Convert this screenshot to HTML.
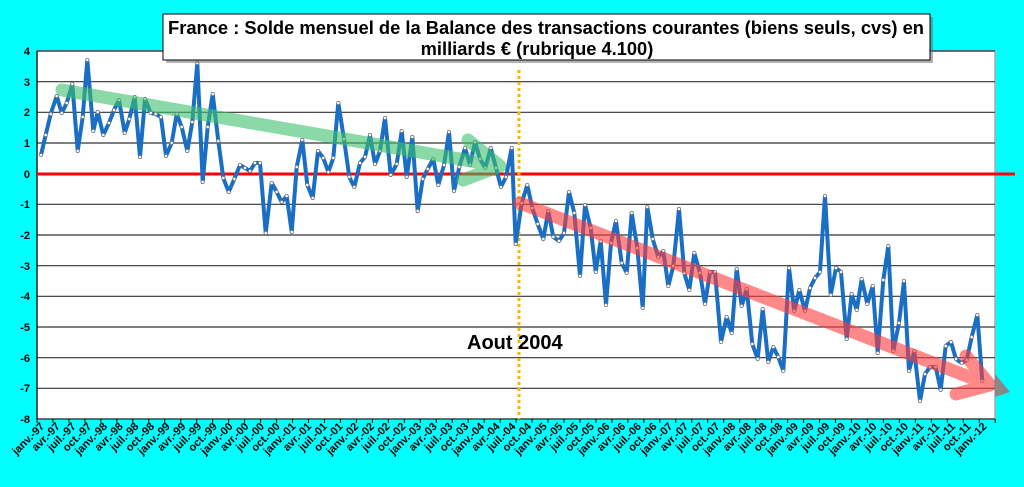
<!DOCTYPE html>
<html><head><meta charset="utf-8"><style>
html,body{margin:0;padding:0;background:#00ffff;}
svg{display:block;font-family:"Liberation Sans",Arial,sans-serif;}
</style></head><body>
<svg width="1024" height="487" viewBox="0 0 1024 487" xmlns="http://www.w3.org/2000/svg">
<rect width="1024" height="487" fill="#00ffff"/>
<rect x="37" y="51" width="958" height="368" fill="#fff" stroke="#aaa" stroke-width="1.5"/>
<g stroke="#333" stroke-width="1.2">
<line x1="37" y1="51" x2="995" y2="51"/><line x1="37" y1="81.7" x2="995" y2="81.7"/><line x1="37" y1="112.3" x2="995" y2="112.3"/><line x1="37" y1="143" x2="995" y2="143"/>
<line x1="37" y1="204.3" x2="995" y2="204.3"/><line x1="37" y1="235" x2="995" y2="235"/><line x1="37" y1="265.7" x2="995" y2="265.7"/><line x1="37" y1="296.3" x2="995" y2="296.3"/><line x1="37" y1="327" x2="995" y2="327"/><line x1="37" y1="357.7" x2="995" y2="357.7"/><line x1="37" y1="388.3" x2="995" y2="388.3"/><line x1="37" y1="419" x2="995" y2="419"/>
</g>
<line x1="37" y1="51" x2="37" y2="419" stroke="#000" stroke-width="1.2"/>
<line x1="37" y1="174" x2="1015" y2="174" stroke="#ff0000" stroke-width="3"/>
<g font-size="11" font-weight="bold" text-anchor="end" fill="#000">
<text x="30" y="55">4</text><text x="30" y="86">3</text><text x="30" y="116">2</text><text x="30" y="147">1</text><text x="30" y="178">0</text><text x="30" y="208">-1</text><text x="30" y="239">-2</text><text x="30" y="270">-3</text><text x="30" y="300">-4</text><text x="30" y="331">-5</text><text x="30" y="362">-6</text><text x="30" y="392">-7</text><text x="30" y="423">-8</text>
</g>
<line x1="519" y1="70" x2="519" y2="419" stroke="#f5b800" stroke-width="3" stroke-dasharray="3,3"/>
<polyline id="pl" fill="none" stroke="#1a6fc4" stroke-width="4" stroke-linejoin="round" points="41,155 45.7,135 50.7,114 56.7,96 61.7,113 66.7,103 72.3,84 77.7,151 82.7,117 87.3,60 93.3,131 97.7,112 103.3,135 109,123 114,110 119,100 124.7,133 129.3,119 134.7,97 140,157 145,99 150.7,113 155.7,114 161,117 166,156 171.7,143 176.7,114 181.7,127 187.3,151 192.3,122 197.3,63 202.7,182 207.7,127 212.7,94 218.3,141 223.3,178 228.7,192 234.3,179 240,165 245,168 250,171 255,163 260,163 265.7,233 271.7,183 276.7,192 281.7,202 286.7,196 291.7,232 296.7,167 302.3,140 307.3,185 312.7,198 318,151 323.3,158 328.3,172 333.3,158 338.3,103 344,139 349.3,177 354.3,187 360,163 365,157 370,135 375,164 380,151 385,118 390.7,175 396.7,164 401.7,131 406.7,177 412.3,137 417.7,211 422.7,179 427.7,169 433.3,159 438.3,185 444,165 449,132 454,191 459.3,167 465,148 470,165 475,142 480,159 485.3,168 490.7,148 496,168 501,187 506,177 511.7,148 515.7,244 521.7,203 527.3,185 532.3,208 537.7,224 543.3,239 548.3,211 553.3,237 559,241 564,233 569,192 574.3,213 580,276 585,205 590.7,228 595.7,272 600.7,241 606,305 611,243 616,221 621.7,263 626.7,273 631.7,213 637.3,248 642.7,308 647.3,207 652.7,239 658.3,257 663.3,251 668.3,286 673.3,266 679,209 684.3,273 689.3,290 694.3,253 700,273 705,304 710,272 715,272 721,342 726.7,317 731.7,333 736.7,269 741.7,306 746.7,289 752.3,344 757.7,359 762.7,309 768.3,362 773.3,347 778.3,357 783.3,371 789,268 794.3,311 799.3,290 805,311 810,288 815,278 820,272 825,196 830.7,295 836,268 841,272 846.7,339 851.7,294 856.7,310 861.7,279 867.3,304 872.7,286 877.7,353 883.3,280 888.3,246 893.3,351 899,323 904,281 909,371 914.3,351 920,401 925,374 930,367 935.7,367 940.7,390 945.7,346 951,342 956,359 961.7,363 966.7,360 971.7,337 977.3,315 982.3,381"/>
<g id="mk" fill="#fff" stroke="#777" stroke-width="0.7"></g>
<g fill="none" stroke-linecap="round" stroke-linejoin="round">
<path d="M62,90 L500,166 M468,140 L500,166 L463,180" stroke="#3cbf6a" stroke-opacity="0.6" stroke-width="13"/>
<path d="M520,203 L990,385 M966,356 L990,385 L956,394" stroke="#ff3b3b" stroke-opacity="0.6" stroke-width="13"/>
</g>
<polygon points="995,374 1010,392 995,397" fill="#888"/>
<text x="467" y="349" font-size="20" font-weight="bold" fill="#000">Aout 2004</text>
<rect x="166" y="17" width="767" height="46" fill="#666" opacity="0.5"/>
<rect x="163" y="14" width="767" height="46" fill="#fff" stroke="#000" stroke-width="1"/>
<g font-size="18.3" font-weight="bold" text-anchor="middle" fill="#000">
<text x="546" y="34" textLength="756" lengthAdjust="spacingAndGlyphs">France : Solde mensuel de la Balance des transactions courantes (biens seuls, cvs) en</text>
<text x="537" y="55">milliards € (rubrique 4.100)</text>
</g>
<g id="ticks" stroke="#000" stroke-width="1"></g>
<g id="xl" font-size="11" font-weight="bold" text-anchor="end" fill="#000"></g>
<script>
var m=["janv.","avr.","juil.","oct."],t=document.getElementById("ticks"),g=document.getElementById("xl"),ns="http://www.w3.org/2000/svg";
for(var k=0;k<=60;k++){var x=37+k*15.97;var l=document.createElementNS(ns,"line");l.setAttribute("x1",x);l.setAttribute("x2",x);l.setAttribute("y1",419);l.setAttribute("y2",423);t.appendChild(l);
var i=k*3,xc=41+i*5.235;var y=97+Math.floor(i/12);var yy=(y%100<10?"0":"")+(y%100);
var tx=document.createElementNS(ns,"text");tx.setAttribute("transform","translate("+(xc+4)+",427) rotate(-45)");tx.textContent=m[k%4]+"-"+yy;g.appendChild(tx);}
var pts=document.getElementById("pl").getAttribute("points").trim().split(/\s+/),mk=document.getElementById("mk");
pts.forEach(function(p){var a=p.split(",");var c=document.createElementNS(ns,"circle");c.setAttribute("cx",a[0]);c.setAttribute("cy",a[1]);c.setAttribute("r",1.6);mk.appendChild(c);});
</script>
</svg>
</body></html>
